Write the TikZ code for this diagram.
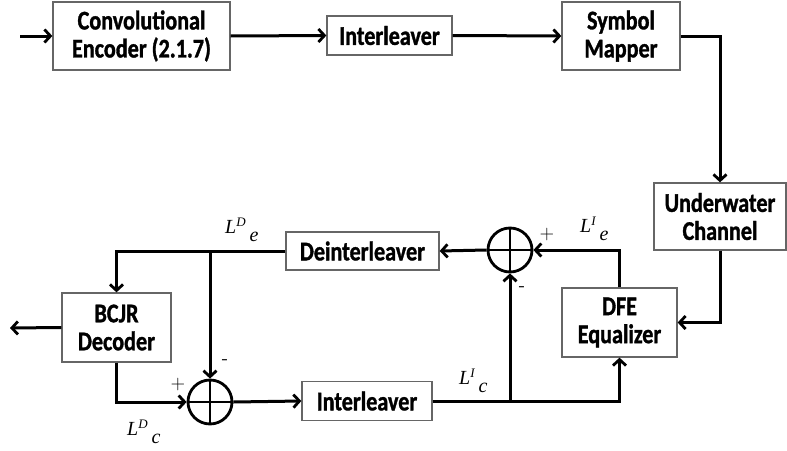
\documentclass[tikz,border=0pt]{standalone}
\usepackage{fontspec}
\usetikzlibrary{arrows.meta}
\newfontfamily\boxfont[FakeStretch=0.82,BoldFeatures={FakeBold=1.2}]{Carlito}
\newfontfamily\labfont{Liberation Serif}
\newcommand{\llab}[2]{{\labfont\itshape L\raisebox{7pt}{\fontsize{13}{13}\selectfont #1}\hspace{4pt}\raisebox{-8pt}{#2}}}
\begin{document}
\begin{tikzpicture}[x=1pt,y=-1pt,
  blk/.style={draw=black!60,line width=1.3pt,fill=white,inner sep=0pt,align=center,
    font=\boxfont\bfseries\fontsize{27}{28}\selectfont},
  summer/.style={circle,draw,line width=2.8pt,minimum size=44pt,inner sep=0pt},
  conn/.style={line width=3pt,-{Straight Barb[length=6pt,width=13pt,line width=2.8pt]}},
  sgn/.style={font=\sffamily\fontsize{20}{20}\selectfont,inner sep=0pt},
  lab/.style={anchor=base west,inner sep=0pt,font=\fontsize{20}{20}\selectfont}]
\useasboundingbox (0,0) rectangle (787,450);
% blocks
\node[blk,minimum width=177pt,minimum height=68pt] (enc) at (141.5,36) {Convolutional\\Encoder (2.1.7)};
\node[blk,minimum width=125pt,minimum height=39pt] (il1) at (389.5,35.5) {Interleaver};
\node[blk,minimum width=118pt,minimum height=68pt] (sm) at (621,36) {Symbol\\Mapper};
\node[blk,minimum width=132pt,minimum height=67pt] (uc) at (720,216.5) {Underwater\\Channel};
\node[blk,minimum width=115pt,minimum height=69pt] (dfe) at (619.5,322.5) {DFE\\Equalizer};
\node[blk,minimum width=153pt,minimum height=38pt] (deil) at (362.5,251) {Deinterleaver};
\node[blk,minimum width=109pt,minimum height=69pt] (bcjr) at (116.5,327.5) {BCJR\\Decoder};
\node[blk,minimum width=130pt,minimum height=39pt] (il2) at (367,401) {Interleaver};
% summers
\node[summer] (s1) at (510,250) {};
\draw[line width=2.8pt] (s1.north) -- (s1.south) (s1.west) -- (s1.east);
\node[summer] (s2) at (210,402) {};
\draw[line width=2.8pt] (s2.north) -- (s2.south) (s2.west) -- (s2.east);
% free ends and branch points
\coordinate (in) at (20,36);
\coordinate (out) at (10,328);
\coordinate (b1) at (210,251);
\coordinate (b2) at (510,401);
% connectors
\draw[conn] (in) -- (enc.west);
\draw[conn] (enc.east) -- (il1.west);
\draw[conn] (il1.east) -- (sm.west);
\draw[conn] (sm.east) -| (uc.north);
\draw[conn] (uc.south) |- (dfe.east);
\draw[conn] (dfe.north) |- (s1.east);
\draw[conn] (s1.west) -- (deil.east);
\draw[conn] (deil.west) -| (bcjr.north);
\draw[conn] (b1) -- (s2.north);
\draw[conn] (bcjr.west) -- (out);
\draw[conn] (bcjr.south) |- (s2.west);
\draw[conn] (s2.east) -- (il2.west);
\draw[conn] (il2.east) -| (dfe.south);
\draw[conn] (b2) -- (s1.south);
% signs
\node[sgn] (p1) at (547,235) {+};
\node[sgn] (m1) at (522,289) {-};
\node[sgn] (p2) at (178,385) {+};
\node[sgn] (m2) at (225,362) {-};
% labels
\node[lab] (lde) at (225,233) {\llab{D}{e}};
\node[lab] (lie) at (580,232) {\llab{I}{e}};
\node[lab] (ldc) at (127,435) {\llab{D}{c}};
\node[lab] (lic) at (459,384) {\llab{I}{c}};
\end{tikzpicture}
\end{document}
